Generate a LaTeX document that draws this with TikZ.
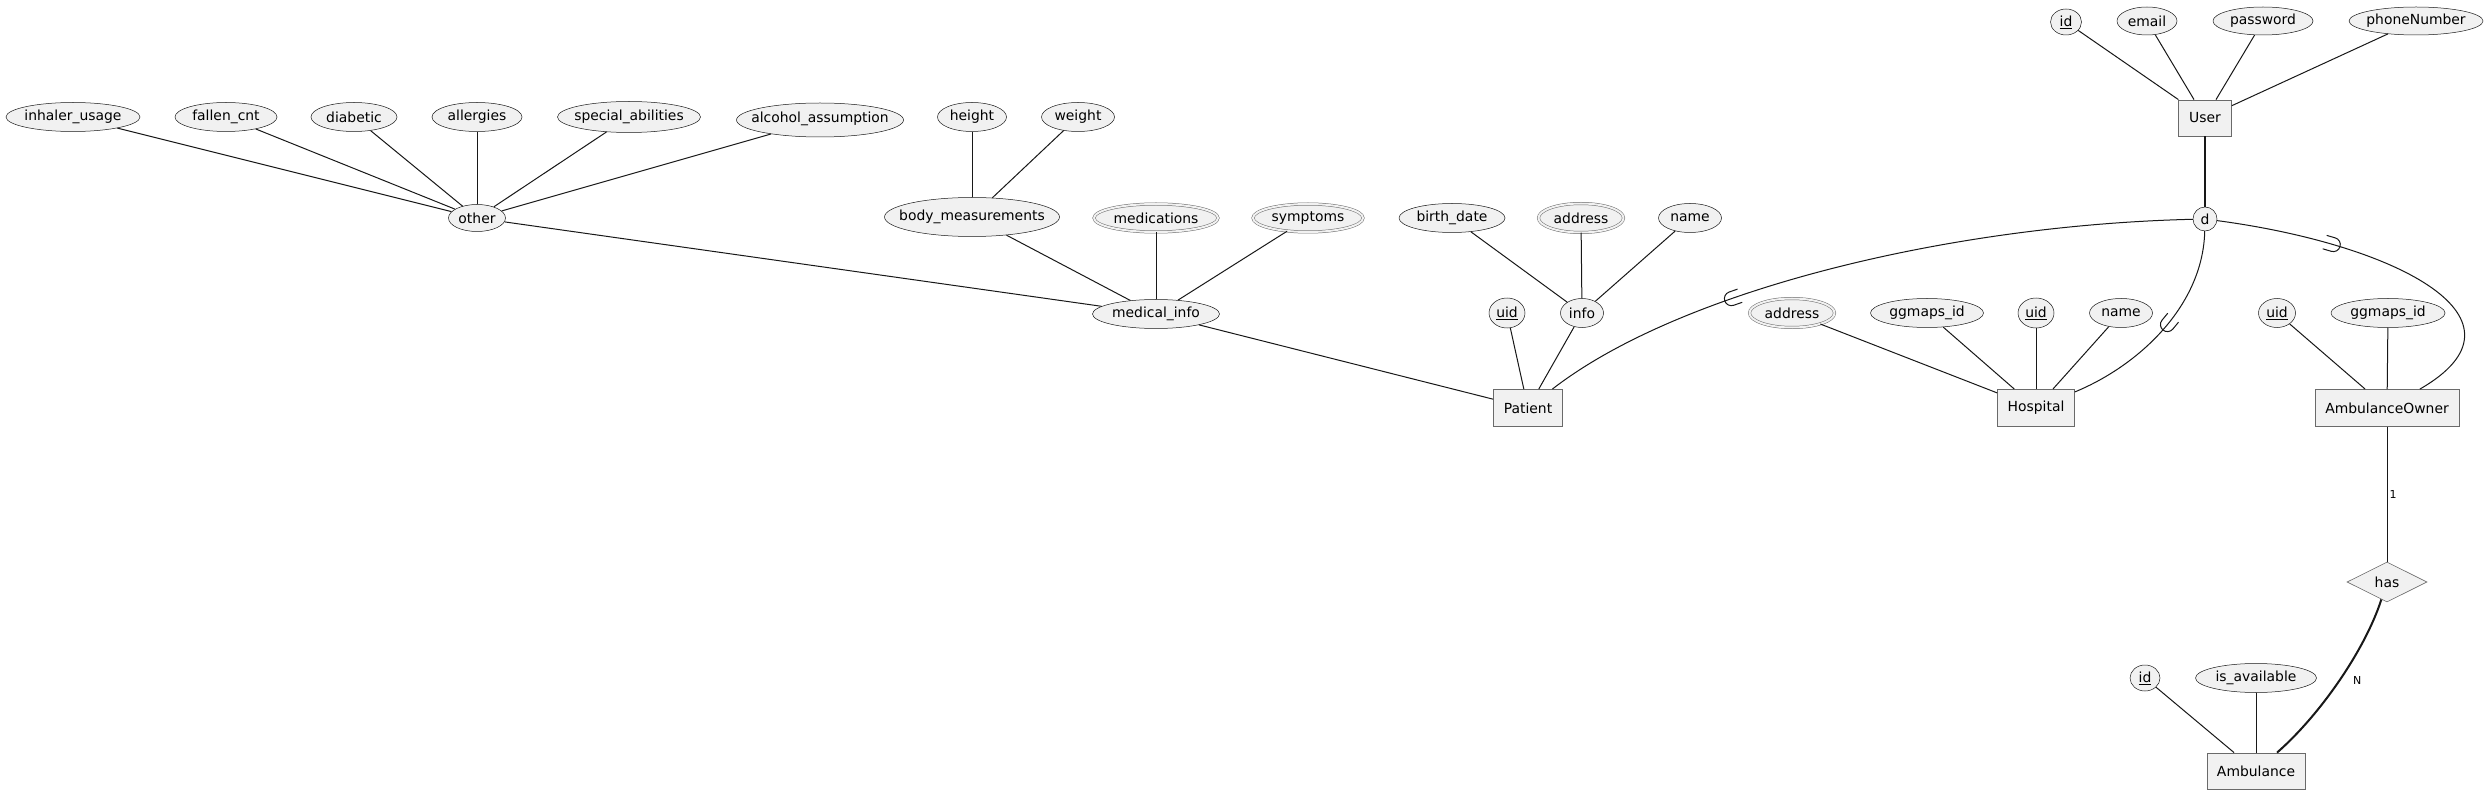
\documentclass[tikz,border=0pt]{standalone}
\usepackage{fontspec}
\setmainfont{DejaVu Sans}
\usetikzlibrary{shapes.geometric,decorations.markings}
\definecolor{efill}{HTML}{F1F1F1}
\definecolor{eline}{HTML}{181818}
\definecolor{bline}{HTML}{6A6A6A}
\tikzset{
  zt/.style={font=\fontsize{13.9}{16}\selectfont, inner sep=0pt, text=black,
    execute at begin node={\hbox to 0pt\bgroup\hss}, execute at end node={\hss\egroup}},
  attr/.style={zt, ellipse, fill=efill, draw=eline, line width=0.5pt, minimum width=#1, minimum height=29},
  mattr/.style={attr=#1, draw=bline, double=efill, double distance=2pt},
  ent/.style={zt, rectangle, fill=efill, draw=bline, line width=0.8pt, minimum width=#1, minimum height=37},
  conn/.style={draw=eline, line width=1pt},
  bold/.style={draw=eline, line width=2pt},
  lbl/.style={font=\fontsize{11}{13}\selectfont, inner sep=0pt, text=black},
  isa/.style={postaction={decorate}, decoration={markings, mark=at position #1 with
    {\draw[draw=eline, line width=1pt] (-9,7) -- (0,7) arc[start angle=90, end angle=-90, radius=7] -- (-9,-7);}}}
}
\begin{document}
\begin{tikzpicture}[x=1pt, y=-1pt]
\useasboundingbox (0,0) rectangle (2490,794);
\fill[white] (0,0) rectangle (2490,794);

% User
\node[attr=31, minimum height=26] (idU) at (2066,22) {\underline{id}};
\node[attr=60, minimum height=28] (email) at (2147,21) {email};
\node[attr=100, minimum height=28] (pass) at (2263,21) {password};
\node[attr=134, minimum height=28] (phone) at (2416,21) {phoneNumber};
\node[ent=53, minimum height=36] (User) at (2205,118) {User};
\node[zt, circle, fill=efill, draw=eline, line width=0.5pt, minimum size=24] (d) at (2205,219) {d};

% other attributes
\node[attr=134] (inh) at (73,117) {inhaler\_usage};
\node[attr=102] (fal) at (226,117) {fallen\_cnt};
\node[attr=86] (dia) at (354,117) {diabetic};
\node[attr=90] (alg) at (477,117) {allergies};
\node[attr=143, minimum height=31] (spe) at (629,117) {\raisebox{1pt}{special\_abilities}};
\node[attr=167, minimum height=34] (alc) at (820,120) {\raisebox{5pt}{alcohol\_assumption}};
\node[attr=69] (hei) at (972,117) {height};
\node[attr=73] (wei) at (1078,117) {weight};

\node[attr=57, minimum height=27] (oth) at (477,218) {other};
\node[attr=175, minimum height=39] (bod) at (972,217) {\raisebox{4pt}{body\_measurements}};
\node[mattr=124, minimum height=28] (meds) at (1156,218) {medications};
\node[mattr=110, minimum height=28] (sym) at (1308,218) {symptoms};
\node[attr=106] (bir) at (1452,218) {birth\_date};
\node[mattr=85] (addi) at (1581,218) {address};
\node[attr=63] (nami) at (1690,218) {name};

\node[attr=127] (mi) at (1156,314) {medical\_info};
\node[attr=36, minimum height=30] (uidp) at (1507,313) {\underline{uid}};
\node[attr=43] (info) at (1582,313) {info};
\node[mattr=85] (addh) at (1792,313) {address};
\node[attr=113] (ggh) at (1927,313) {ggmaps\_id};
\node[attr=36, minimum height=30] (uidh) at (2036,313) {\underline{uid}};
\node[attr=63] (namh) at (2121,313) {name};
\node[attr=37] (uida) at (2277,313) {\underline{uid}};
\node[attr=114] (gga) at (2388,313) {ggmaps\_id};

% entities
\node[ent=69] (Patient) at (1528,408) {Patient};
\node[ent=77] (Hospital) at (2036,408) {Hospital};
\node[ent=144] (AO) at (2387,408) {AmbulanceOwner};
\node[zt, diamond, aspect=2, fill=efill, draw=bline, line width=0.6pt, minimum width=80, minimum height=40] (has) at (2387,582) {has};
\node[attr=30, minimum height=26] (idA) at (2145,678) {\underline{id}};
\node[attr=121] (isav) at (2256,678) {is\_available};
\node[ent=98, minimum height=36] (Amb) at (2256,771) {Ambulance};

% connectors: User
\draw[conn] (idU) -- (User);
\draw[conn] (email) -- (User);
\draw[conn] (pass) -- (User);
\draw[conn] (phone) -- (User);
\draw[bold] (User) -- (d);

% specialization
\draw[conn, isa=0.70] (d) .. controls (1950,225) and (1680,290) .. (Patient);
\draw[conn, isa=0.47] (d) .. controls (2203,305) and (2140,365) .. (Hospital);
\draw[conn, isa=0.33] (d) .. controls (2400,245) and (2540,320) .. (AO);

% other
\draw[conn] (inh) -- (oth);
\draw[conn] (fal) -- (oth);
\draw[conn] (dia) -- (oth);
\draw[conn] (alg) -- (oth);
\draw[conn] (spe) -- (oth);
\draw[conn] (alc) -- (oth);
\draw[conn] (hei) -- (bod);
\draw[conn] (wei) -- (bod);
\draw[conn] (oth) -- (mi);
\draw[conn] (bod) -- (mi);
\draw[conn] (meds) -- (mi);
\draw[conn] (sym) -- (mi);
\draw[conn] (bir) -- (info);
\draw[conn] (addi) -- (info);
\draw[conn] (nami) -- (info);
\draw[conn] (mi) -- (Patient);
\draw[conn] (uidp) -- (Patient);
\draw[conn] (info) -- (Patient);

% Hospital
\draw[conn] (addh) -- (Hospital);
\draw[conn] (ggh) -- (Hospital);
\draw[conn] (uidh) -- (Hospital);
\draw[conn] (namh) -- (Hospital);

% Ambulance owner
\draw[conn] (uida) -- (AO);
\draw[conn] (gga) -- (AO);
\draw[conn] (AO) -- node[lbl, right=2pt] {1} (has);
\draw[bold] (has) .. controls (2365,650) and (2320,715) .. node[lbl, pos=0.5, right=13pt] {N} (Amb);
\draw[conn] (idA) -- (Amb);
\draw[conn] (isav) -- (Amb);
\end{tikzpicture}
\end{document}
